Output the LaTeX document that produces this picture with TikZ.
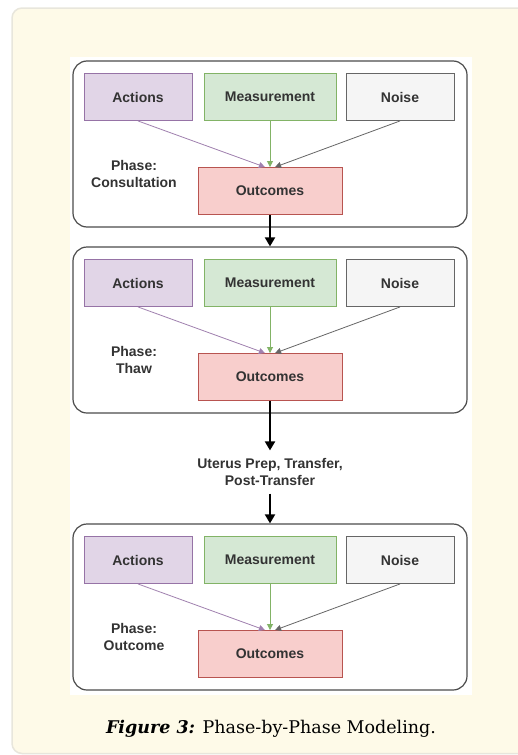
\documentclass[tikz,border=0pt]{standalone}
\usepackage{fontspec}
\setmainfont{Liberation Sans}
\newfontfamily\capfont{DejaVu Serif}
\usetikzlibrary{arrows.meta}
\definecolor{panelfill}{HTML}{FEFAE8}
\definecolor{panelline}{HTML}{E8E6DC}
\definecolor{actfill}{HTML}{E1D5E7}
\definecolor{actline}{HTML}{9673A6}
\definecolor{measfill}{HTML}{D5E8D4}
\definecolor{measline}{HTML}{82B366}
\definecolor{noisefill}{HTML}{F5F5F5}
\definecolor{noiseline}{HTML}{666666}
\definecolor{outfill}{HTML}{F8CECC}
\definecolor{outline}{HTML}{B85450}
\definecolor{txt}{HTML}{333333}
\newcommand{\phasepanel}[3]{
  \begin{scope}[shift={(0,#2)}]
    \node[panel] (P#1) at (270,83) {};
    \node[box,fill=actfill,draw=actline,minimum width=108] (A#1) at (138,36) {Actions};
    \node[box,fill=measfill,draw=measline,minimum width=132] (M#1) at (270,36) {Measurement};
    \node[box,fill=noisefill,draw=noiseline,minimum width=108] (N#1) at (400,36) {Noise};
    \node[box,fill=outfill,draw=outline,minimum width=144] (O#1) at (270,130) {Outcomes};
    \node[phasetext] (L#1) at (134,113) {Phase:\\#3};
    \draw [thinarrow,actline!90] (A#1.south) -- (O#1.102);
    \draw [thinarrow,measline] (M#1) -- (O#1);
    \draw [thinarrow,noiseline] (N#1.south) -- (O#1.78);
  \end{scope}
}

\begin{document}
\begin{tikzpicture}[x=1pt,y=-1pt,
    every node/.style={font=\bfseries\fontsize{14}{16.5}\selectfont,text=txt},
    panel/.style={draw=black!70,line width=1.2pt,rounded corners=14pt,minimum width=394,minimum height=166,inner sep=0},
    box/.style={line width=0.9pt,minimum height=47,inner sep=0},
    phasetext/.style={align=center,inner sep=0},
    thinarrow/.style={line width=0.8pt,-{Triangle[length=6pt,width=6pt]}},
    bigarrow/.style={line width=2pt,-{Triangle[length=9pt,width=10pt]}}]
  \useasboundingbox (0,0) rectangle (517,755);
  \draw[rounded corners=10pt,draw=panelline,fill=panelfill,line width=1.5pt] (12,8) rectangle (545,753.5);
  \fill[white] (70,57) rectangle (472,695);
  \phasepanel{1}{61}{Consultation}
  \phasepanel{2}{247}{Thaw}
  \phasepanel{3}{524}{Outcome}
  \node[align=center,inner sep=8pt] (U) at (270,472) {Uterus Prep, Transfer,\\Post-Transfer};
  \draw [bigarrow] (O1) -- (P2);
  \draw [bigarrow] (O2) -- (U);
  \draw [bigarrow] (U) -- (P3);
  \node[text=black,font=\capfont\fontsize{17.5}{20}\selectfont] (C) at (271,729) {\textbf{\textit{Figure 3:}} Phase-by-Phase Modeling.};
\end{tikzpicture}
\end{document}
